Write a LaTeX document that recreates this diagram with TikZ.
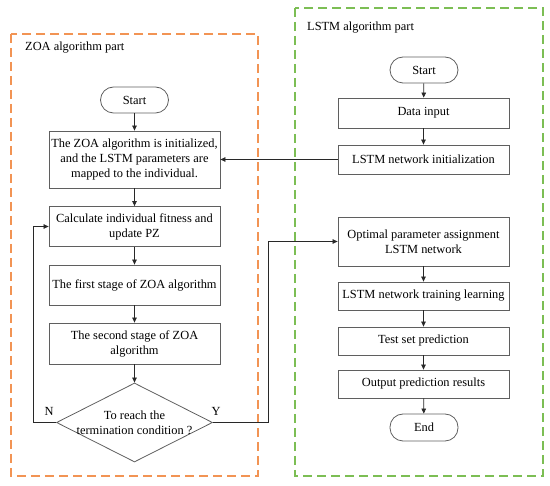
\documentclass[tikz,border=0pt]{standalone}
\usepackage{fontspec}
\setmainfont{Liberation Serif}
\usetikzlibrary{shapes.geometric,arrows.meta}
\definecolor{zoaorange}{RGB}{242,148,84}
\definecolor{lstmgreen}{RGB}{124,190,84}
\definecolor{boxgray}{RGB}{95,95,95}
\definecolor{linegray}{RGB}{40,40,40}
\begin{document}
\begin{tikzpicture}[x=1pt,y=-1pt,font=\fontsize{12.4}{15}\selectfont,
  proc/.style={draw=boxgray,line width=0.8pt,minimum width=171pt,align=center,inner sep=1pt},
  term/.style={draw=boxgray,line width=0.8pt,rounded corners=13pt,minimum width=68pt,minimum height=26pt,inner sep=1pt},
  decision/.style={draw=boxgray,line width=0.8pt,diamond,minimum width=156pt,minimum height=79pt,inner sep=0pt},
  arr/.style={draw=linegray,-{Triangle[length=5pt,width=4.5pt]},line width=0.7pt},
  part/.style={dash pattern=on 9pt off 5pt,line width=1.4pt},
  title/.style={anchor=west,inner sep=0pt}]
\useasboundingbox (0,0) rectangle (550,486);
% dashed part frames
\draw[part,draw=zoaorange] (11,34) rectangle (258,476);
\draw[part,draw=lstmgreen] (295,8) rectangle (543,476);
\node[title] (zt) at (25,48) {ZOA algorithm part};
\node[title] (lt) at (307,28) {LSTM algorithm part};
% ZOA part
\node[term] (zs) at (134.5,100) {Start};
\node[proc,minimum height=57pt] (z1) at (134.5,159.5) {The ZOA algorithm is initialized,\\and the LSTM parameters are\\mapped to the individual.};
\node[proc,minimum height=40pt] (z2) at (134.5,226.5) {Calculate individual fitness and\\update PZ};
\node[proc,minimum height=40pt] (z3) at (134.5,285) {The first stage of ZOA algorithm};
\node[proc,minimum height=41pt] (z4) at (134.5,343.5) {The second stage of ZOA\\algorithm};
\node[decision,label={[align=center,inner sep=0pt]center:To reach the\\termination condition ?}] (zd) at (134.5,422.5) {};
\node (nl) at (49,411) {N};
\node (yl) at (216,411) {Y};
% LSTM part
\node[term] (ls) at (424,70) {Start};
\node[proc,minimum height=30pt] (l1) at (423.5,113) {Data input};
\node[proc,minimum height=29pt] (l2) at (423.5,159.5) {LSTM network initialization};
\node[proc,minimum height=49pt] (l3) at (423.5,241.5) {Optimal parameter assignment\\LSTM network};
\node[proc,minimum height=28pt] (l4) at (423.5,296) {LSTM network training learning};
\node[proc,minimum height=28pt] (l5) at (423.5,341) {Test set prediction};
\node[proc,minimum height=28pt] (l6) at (423.5,384) {Output prediction results};
\node[term,minimum height=27pt] (le) at (424,427.5) {End};
% connectors
\draw[arr] (zs) -- (z1);
\draw[arr] (z1) -- (z2);
\draw[arr] (z2) -- (z3);
\draw[arr] (z3) -- (z4);
\draw[arr] (z4) -- (zd);
\coordinate (nturn) at (33,422.5);
\coordinate (yturn) at (268,422.5);
\draw[arr] (zd.west) -- (nturn) |- (z2.west);
\draw[arr] (zd.east) -- (yturn) |- (l3.west);
\draw[arr] (l2.west) -- (z1.east);
\draw[arr] (ls) -- (l1);
\draw[arr] (l1) -- (l2);
\draw[arr] (l3) -- (l4);
\draw[arr] (l4) -- (l5);
\draw[arr] (l5) -- (l6);
\draw[arr] (l6) -- (le);
\end{tikzpicture}
\end{document}
